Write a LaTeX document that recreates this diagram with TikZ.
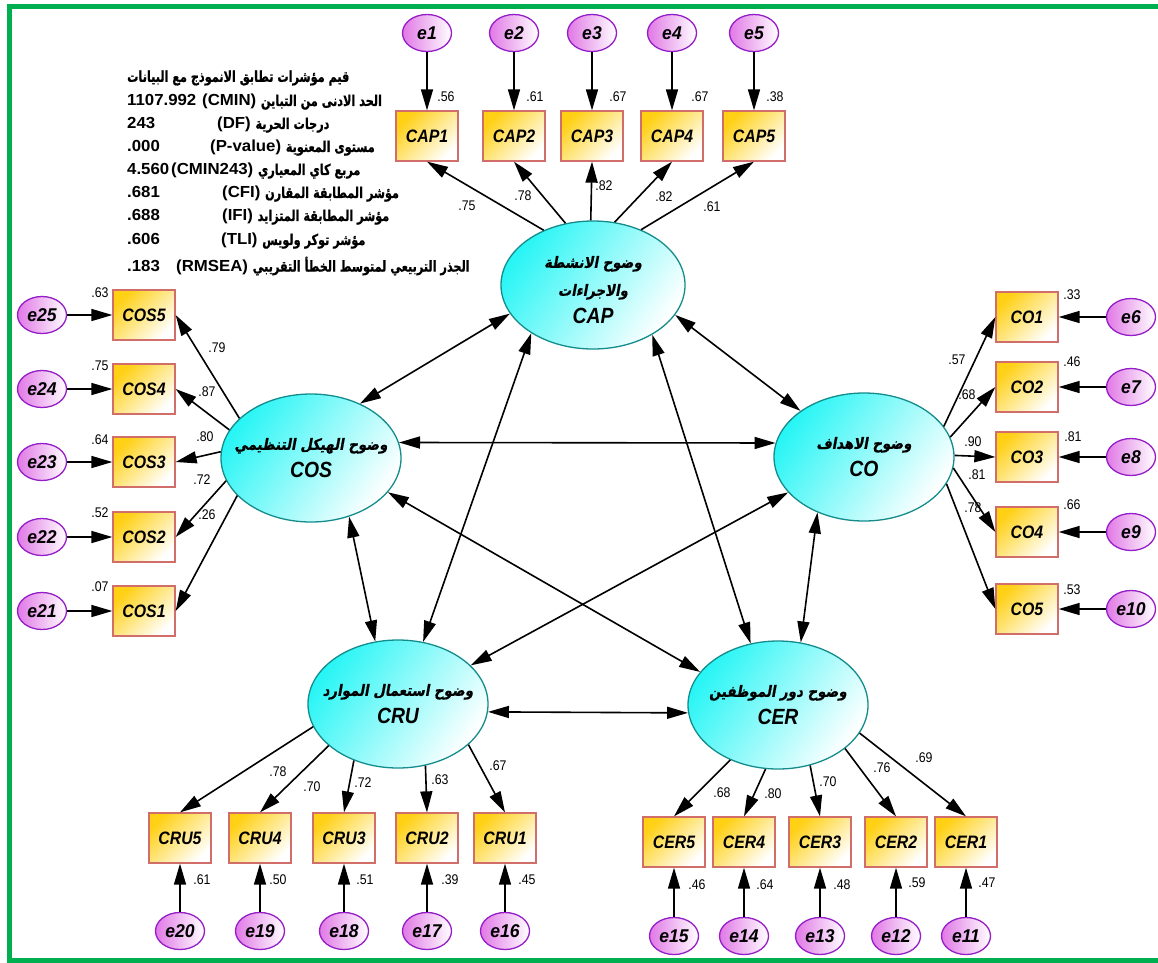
\documentclass[tikz,border=0pt]{standalone}
\usepackage{fontspec}
\usetikzlibrary{shapes.geometric,arrows.meta}
\setmainfont{Liberation Sans}
\newfontfamily\narrowfont[FakeStretch=0.88]{Liberation Sans}
\newfontfamily\errfont[FakeStretch=0.95]{Liberation Sans}
\newfontfamily\fitfont[FakeStretch=1.05]{Liberation Sans}
\newfontfamily\arfont[Script=Arabic,FakeStretch=0.75,FakeBold=0.8]{DejaVu Sans}
\newfontfamily\arslfont[Script=Arabic,FakeSlant=0.18,FakeStretch=0.86,FakeBold=0.8]{DejaVu Sans}
\TeXXeTstate=1
\definecolor{framegreen}{RGB}{0,176,80}
\definecolor{latedge}{RGB}{20,140,140}
\definecolor{latfill}{RGB}{40,245,245}
\definecolor{boxedge}{RGB}{210,110,105}
\definecolor{boxfill}{RGB}{255,208,20}
\definecolor{erredge}{RGB}{150,30,200}
\definecolor{errfill}{RGB}{225,120,230}
\tikzset{
  latent/.style={ellipse, draw=latedge, line width=1.3pt, top color=latfill, bottom color=white,
    shading angle=55, minimum width=180pt, minimum height=128pt, inner sep=0pt},
  lattext/.style={align=center, inner sep=0pt, font=\arslfont\bfseries\fontsize{15.5}{28}\selectfont},
  obsbox/.style={rectangle, draw=boxedge, line width=1.3pt, top color=boxfill, bottom color=white,
    shading angle=45, minimum width=62pt, minimum height=50pt, inner sep=0pt,
    font=\narrowfont\bfseries\itshape\fontsize{18}{18}\selectfont},
  errnode/.style={ellipse, draw=erredge, line width=1.3pt, left color=errfill, right color=white,
    minimum width=49pt, minimum height=37pt, inner sep=0pt,
    font=\errfont\bfseries\itshape\fontsize{18.5}{18}\selectfont},
  loadarrow/.style={-{Triangle[length=21pt,width=12pt]}, line width=1.6pt},
  covarrow/.style={{Triangle[length=21pt,width=12pt]}-{Triangle[length=21pt,width=12pt]}, line width=1.6pt},
  lab/.style={inner sep=0pt, font=\narrowfont\fontsize{14}{14}\selectfont},
  fitline/.style={anchor=west, inner sep=0pt, font=\fitfont\bfseries\fontsize{16}{16}\selectfont},
}
\newcommand\latin[1]{{\narrowfont\bfseries\itshape\fontsize{22}{22}\selectfont #1}}
\newcommand\fitarfont{\arfont\bfseries\fontsize{15}{15}\selectfont}
\begin{document}
\begin{tikzpicture}[x=1pt,y=-1pt]
\useasboundingbox (0,0) rectangle (1158,962);
\fill[white] (0,0) rectangle (1158,962);
\draw[framegreen, line width=5.5pt] (1165,6.5) -- (9.5,6.5) -- (9.5,961) -- (1165,961);

% ---- fit indices ----
\node[fitline] (fit0) at (127,78) {{\fitarfont\beginR قيم مؤشرات تطابق الانموذج مع البيانات\endR}};
\node[fitline] (fit1) at (127,102) {\makebox[75pt][l]{1107.992}(CMIN) {\fitarfont\beginR الحد الادنى من التباين\endR}};
\node[fitline] (fit2) at (127,125) {\makebox[90pt][l]{243}(DF) {\fitarfont\beginR درجات الحرية\endR}};
\node[fitline] (fit3) at (127,148) {\makebox[83pt][l]{.000}(P-value) {\fitarfont\beginR مستوى المعنوية\endR}};
\node[fitline] (fit4) at (127,171) {\makebox[44pt][l]{4.560}(CMIN243) {\fitarfont\beginR مربع كاي المعياري\endR}};
\node[fitline] (fit5) at (127,194) {\makebox[95pt][l]{.681}(CFI) {\fitarfont\beginR مؤشر المطابقة المقارن\endR}};
\node[fitline] (fit6) at (127,217) {\makebox[95pt][l]{.688}(IFI) {\fitarfont\beginR مؤشر المطابقة المتزايد\endR}};
\node[fitline] (fit7) at (127,241) {\makebox[94pt][l]{.606}(TLI) {\fitarfont\beginR مؤشر توكر ولويس\endR}};
\node[fitline] (fit8) at (127,266) {\makebox[49pt][l]{.183}(RMSEA) {\fitarfont\beginR الجذر التربيعي لمتوسط الخطأ التقريبي\endR}};

% ---- latent variables ----
\node[latent, minimum width=184pt, label={[lattext, yshift=-5pt]center:\beginR وضوح الانشطة\endR\\\beginR والاجراءات\endR\\\latin{CAP}}] (CAP) at (593,285) {};
\node[latent, label={[lattext]center:\beginR وضوح الهيكل التنظيمي\endR\\\latin{COS}}] (COS) at (311,458) {};
\node[latent, label={[lattext]center:\beginR وضوح الاهداف\endR\\\latin{CO}}] (CO) at (864,457) {};
\node[latent, label={[lattext]center:\beginR وضوح استعمال الموارد\endR\\\latin{CRU}}] (CRU) at (398,704) {};
\node[latent, label={[lattext]center:\beginR وضوح دور الموظفين\endR\\\latin{CER}}] (CER) at (778,705) {};

% ---- CAP indicators ----
\foreach \i/\x in {1/427,2/514,3/592,4/672,5/754}{
  \node[obsbox] (CAP\i) at (\x,136) {CAP\i};
  \node[errnode] (e\i) at (\x,33) {e\i};
  \draw[loadarrow] (e\i) -- (CAP\i);
}
% ---- COS indicators ----
\foreach \i/\y/\e in {5/315/25,4/389/24,3/462/23,2/537/22,1/611/21}{
  \node[obsbox] (COS\i) at (144,\y) {COS\i};
  \node[errnode] (e\e) at (42,\y) {e\e};
  \draw[loadarrow] (e\e) -- (COS\i);
}
% ---- CO indicators ----
\foreach \i/\y/\e in {1/317/6,2/387/7,3/457/8,4/532/9,5/609/10}{
  \node[obsbox] (CO\i) at (1027,\y) {CO\i};
  \node[errnode] (e\e) at (1131,\y) {e\e};
  \draw[loadarrow] (e\e) -- (CO\i);
}
% ---- CRU indicators ----
\foreach \i/\x/\e in {5/180/20,4/260/19,3/344/18,2/427/17,1/505/16}{
  \node[obsbox] (CRU\i) at (\x,838) {CRU\i};
  \node[errnode] (e\e) at (\x,931) {e\e};
  \draw[loadarrow] (e\e) -- (CRU\i);
}
% ---- CER indicators ----
\foreach \i/\x/\e in {5/674/15,4/744/14,3/820/13,2/896/12,1/966/11}{
  \node[obsbox] (CER\i) at (\x,842) {CER\i};
  \node[errnode] (e\e) at (\x,936) {e\e};
  \draw[loadarrow] (e\e) -- (CER\i);
}

% ---- loadings ----
\draw[loadarrow] (CAP.132) -- (CAP1.south);
\draw[loadarrow] (CAP.114) -- (CAP2.south);
\draw[loadarrow] (CAP.92) -- (CAP3.south);
\draw[loadarrow] (CAP.71) -- (CAP4.south);
\draw[loadarrow] (CAP.49) -- (CAP5.south);

\draw[loadarrow] (COS.151) -- (COS5.east);
\draw[loadarrow] (COS.161) -- (COS4.east);
\draw[loadarrow] (COS.176) -- (COS3.east);
\draw[loadarrow] (COS.195) -- (COS2.east);
\draw[loadarrow] (COS.207) -- (COS1.east);

\draw[loadarrow] (CO.21) -- (CO1.west);
\draw[loadarrow] (CO.13) -- (CO2.west);
\draw[loadarrow] (CO.1) -- (CO3.west);
\draw[loadarrow] (CO.-7) -- (CO4.west);
\draw[loadarrow] (CO.-18) -- (CO5.west);

\draw[loadarrow] (CRU.195) -- (CRU5.north);
\draw[loadarrow] (CRU.211) -- (CRU4.north);
\draw[loadarrow] (CRU.232) -- (CRU3.north);
\draw[loadarrow] (CRU.294) -- (CRU2.north);
\draw[loadarrow] (CRU.330) -- (CRU1.north);

\draw[loadarrow] (CER.229) -- (CER5.north);
\draw[loadarrow] (CER.259) -- (CER4.north);
\draw[loadarrow] (CER.298) -- (CER3.north);
\draw[loadarrow] (CER.327) -- (CER2.north);
\draw[loadarrow] (CER.341) -- (CER1.north);

% ---- covariances ----
\draw[covarrow] (CAP.199) -- (COS.48);
\draw[covarrow] (CAP.-20) -- (CO.144);
\draw[covarrow] (COS.10) -- (CO.171);
\draw[covarrow] (CAP.218) -- (CRU.68);
\draw[covarrow] (CAP.320) -- (CER.114);
\draw[covarrow] (COS.303) -- (CRU.110);
\draw[covarrow] (COS.336) -- (CER.157);
\draw[covarrow] (CO.205) -- (CRU.28);
\draw[covarrow] (CO.230) -- (CER.70);
\draw[covarrow] (CRU.-5) -- (CER.185);

% ---- squared multiple correlations ----
\node[lab] (r1) at (446,97) {.56};
\node[lab] (r2) at (535,97) {.61};
\node[lab] (r3) at (618,97) {.67};
\node[lab] (r4) at (700,97) {.67};
\node[lab] (r5) at (775,97) {.38};
\node[lab] (r25) at (100,293) {.63};
\node[lab] (r24) at (100,366) {.75};
\node[lab] (r23) at (100,440) {.64};
\node[lab] (r22) at (100,513) {.52};
\node[lab] (r21) at (100,587) {.07};
\node[lab] (r6) at (1072,295) {.33};
\node[lab] (r7) at (1072,362) {.46};
\node[lab] (r8) at (1073,437) {.81};
\node[lab] (r9) at (1072,505) {.66};
\node[lab] (r10) at (1072,590) {.53};
\node[lab] (r20) at (202,880) {.61};
\node[lab] (r19) at (278,880) {.50};
\node[lab] (r18) at (365,880) {.51};
\node[lab] (r17) at (450,880) {.39};
\node[lab] (r16) at (527,880) {.45};
\node[lab] (r15) at (697,885) {.46};
\node[lab] (r14) at (765,885) {.64};
\node[lab] (r13) at (842,885) {.48};
\node[lab] (r12) at (917,883) {.59};
\node[lab] (r11) at (987,883) {.47};

% ---- loading weights ----
\node[lab] (w1) at (467,206) {.75};
\node[lab] (w2) at (523,196) {.78};
\node[lab] (w3) at (604,186) {.82};
\node[lab] (w4) at (664,197) {.82};
\node[lab] (w5) at (712,207) {.61};
\node[lab] (w25) at (217,348) {.79};
\node[lab] (w24) at (207,392) {.87};
\node[lab] (w23) at (205,437) {.80};
\node[lab] (w22) at (202,480) {.72};
\node[lab] (w21) at (207,515) {.26};
\node[lab] (w6) at (957,360) {.57};
\node[lab] (w7) at (967,395) {.68};
\node[lab] (w8) at (973,442) {.90};
\node[lab] (w9) at (977,475) {.81};
\node[lab] (w10) at (973,508) {.78};
\node[lab] (w20) at (278,772) {.78};
\node[lab] (w19) at (312,787) {.70};
\node[lab] (w18) at (363,783) {.72};
\node[lab] (w17) at (440,780) {.63};
\node[lab] (w16) at (498,766) {.67};
\node[lab] (w15) at (722,793) {.68};
\node[lab] (w14) at (773,794) {.80};
\node[lab] (w13) at (828,782) {.70};
\node[lab] (w12) at (882,768) {.76};
\node[lab] (w11) at (924,758) {.69};
\end{tikzpicture}
\end{document}
